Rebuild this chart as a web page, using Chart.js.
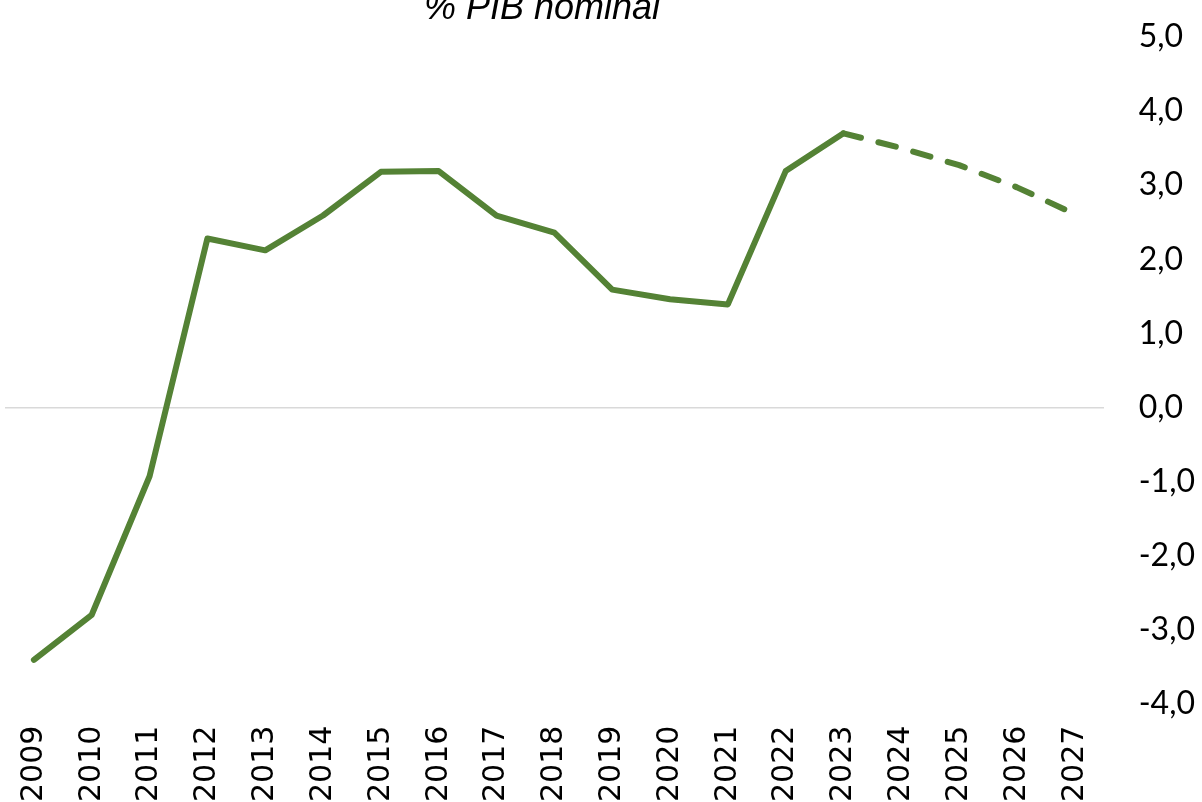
<!DOCTYPE html>
<html>
<head>
<meta charset="utf-8">
<script src="https://cdn.jsdelivr.net/npm/chart.js@4/dist/chart.umd.min.js"></script>
<style>
  body { margin: 0; background: #fff; }
  #wrap { width: 1202px; height: 802px; position: relative; }
</style>
</head>
<body>
<div id="wrap"><canvas id="chart"></canvas></div>
<script>
const years = ['2009', '2010', '2011', '2012', '2013', '2014', '2015', '2016', '2017', '2018',
  '2019', '2020', '2021', '2022', '2023', '2024', '2025', '2026', '2027'];
const values = [-3.41, -2.80, -0.93, 2.28, 2.12, 2.59, 3.18, 3.19, 2.59, 2.36,
  1.59, 1.46, 1.39, 3.19, 3.70, 3.50, 3.27, 2.97, 2.61];
const forecastFrom = 14; // 2023 -> dashed after this point
const chartTitle = '% PIB nominal';

const green = '#548235';

// title sits partly off the top of the canvas, like the original
const topTitle = {
  id: 'topTitle',
  afterDraw(chart) {
    const ctx = chart.ctx;
    ctx.save();
    ctx.font = 'italic 36px "Liberation Sans", Arial, sans-serif';
    ctx.fillStyle = '#000';
    ctx.textAlign = 'center';
    ctx.textBaseline = 'alphabetic';
    ctx.fillText(chartTitle, 542, 19);
    ctx.restore();
  }
};

new Chart(document.getElementById('chart').getContext('2d'), {
  type: 'line',
  data: {
    labels: years,
    datasets: [{
      data: values,
      borderColor: green,
      borderWidth: 6,
      borderCapStyle: 'round',
      borderJoinStyle: 'round',
      pointRadius: 0,
      tension: 0,
      fill: false,
      segment: {
        borderDash: ctx => ctx.p0DataIndex >= forecastFrom ? [18, 18] : undefined
      }
    }]
  },
  options: {
    responsive: true,
    maintainAspectRatio: false,
    animation: false,
    layout: { padding: { top: 37, left: 5, right: -8, bottom: -22 } },
    plugins: {
      legend: { display: false },
      tooltip: { enabled: false }
    },
    scales: {
      x: {
        offset: true,
        border: { display: false },
        grid: { display: false, drawTicks: false },
        ticks: {
          color: '#000',
          font: { family: '"DejaVu Sans"', size: 30 },
          minRotation: 90,
          maxRotation: 90,
          padding: 22,
          autoSkip: false
        }
      },
      y: {
        position: 'right',
        min: -4,
        max: 5,
        border: { display: false },
        grid: {
          drawTicks: true,
          tickLength: 20,
          tickColor: 'rgba(0,0,0,0)',
          lineWidth: 1.5,
          color: c => c.tick && c.tick.value === 0 ? '#d9d9d9' : 'rgba(0,0,0,0)'
        },
        ticks: {
          stepSize: 1,
          color: '#000',
          font: { family: 'Lato', size: 32 },
          padding: 15,
          callback: v => v.toFixed(1).replace('.', ',')
        }
      }
    }
  },
  plugins: [topTitle]
});
</script>
</body>
</html>
